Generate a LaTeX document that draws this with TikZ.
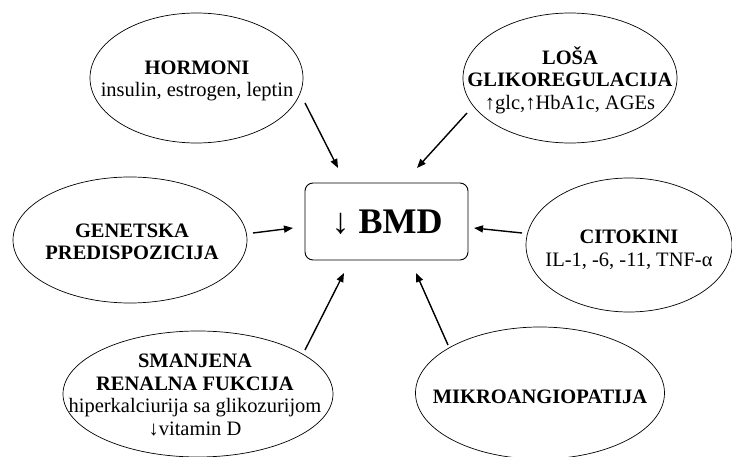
\documentclass[tikz,border=0pt]{standalone}
\usepackage{fontspec}
\setmainfont{Liberation Serif}
\usetikzlibrary{shapes.geometric,arrows.meta}
\tikzset{
  oval/.style={draw, ellipse, inner sep=0pt, outer sep=0pt, line width=0.7pt},
  txt/.style={align=center, inner sep=0pt, font=\fontsize{20.5}{22.5}\selectfont},
  bmdbox/.style={draw, rounded corners=8pt, line width=0.9pt, inner sep=0pt,
    minimum width=163pt, minimum height=77pt},
  arr/.style={line width=1.4pt, -{Triangle[length=9pt,width=7pt]}}
}
\begin{document}
\begin{tikzpicture}[x=1pt,y=-1pt]
\useasboundingbox (0,0) rectangle (732,457);
% central box
\node[bmdbox] (bmd) at (386.5,221.5) {};
\node[inner sep=0pt, font=\fontsize{36}{40}\selectfont] (bmdt) at (387,222) {↓ \textbf{BMD}};
% ellipses
\node[oval, minimum width=213pt, minimum height=130pt] (hor) at (196.5,78) {};
\node[txt] (hort) at (197,81) {\textbf{HORMONI}\\insulin, estrogen, leptin};
\node[oval, minimum width=214pt, minimum height=130pt] (glk) at (570,78) {};
\node[txt] (glkt) at (570,80) {\textbf{LOŠA}\\\textbf{GLIKOREGULACIJA}\\↑glc,↑HbA1c, AGEs};
\node[oval, minimum width=234pt, minimum height=126pt] (gen) at (130,240) {};
\node[txt] (gent) at (132,242) {\textbf{GENETSKA}\\\textbf{PREDISPOZICIJA}};
\node[oval, minimum width=206pt, minimum height=134pt] (cit) at (629,245) {};
\node[txt] (citt) at (629,250) {\textbf{CITOKINI}\\IL-1, -6, -11, TNF-α};
\node[oval, minimum width=270pt, minimum height=126pt] (ren) at (198,394) {};
\node[txt] (rent) at (195,395) {\textbf{SMANJENA}\\\textbf{RENALNA FUKCIJA}\\hiperkalciurija sa glikozurijom\\↓vitamin D};
\node[oval, minimum width=249pt, minimum height=132pt] (mik) at (540,393) {};
\node[txt] (mikt) at (540,397) {\textbf{MIKROANGIOPATIJA}};
% arrow end points
\coordinate (h1) at (305,103); \coordinate (h2) at (338,168);
\coordinate (g1) at (467,113); \coordinate (g2) at (417,168);
\coordinate (e1) at (253,233); \coordinate (e2) at (293,228);
\coordinate (c1) at (522,233); \coordinate (c2) at (474,228);
\coordinate (r1) at (305,350); \coordinate (r2) at (344,273);
\coordinate (m1) at (448,345); \coordinate (m2) at (416,273);
\draw[arr] (h1) -- (h2);
\draw[arr] (g1) -- (g2);
\draw[arr] (e1) -- (e2);
\draw[arr] (c1) -- (c2);
\draw[arr] (r1) -- (r2);
\draw[arr] (m1) -- (m2);
\end{tikzpicture}
\end{document}
